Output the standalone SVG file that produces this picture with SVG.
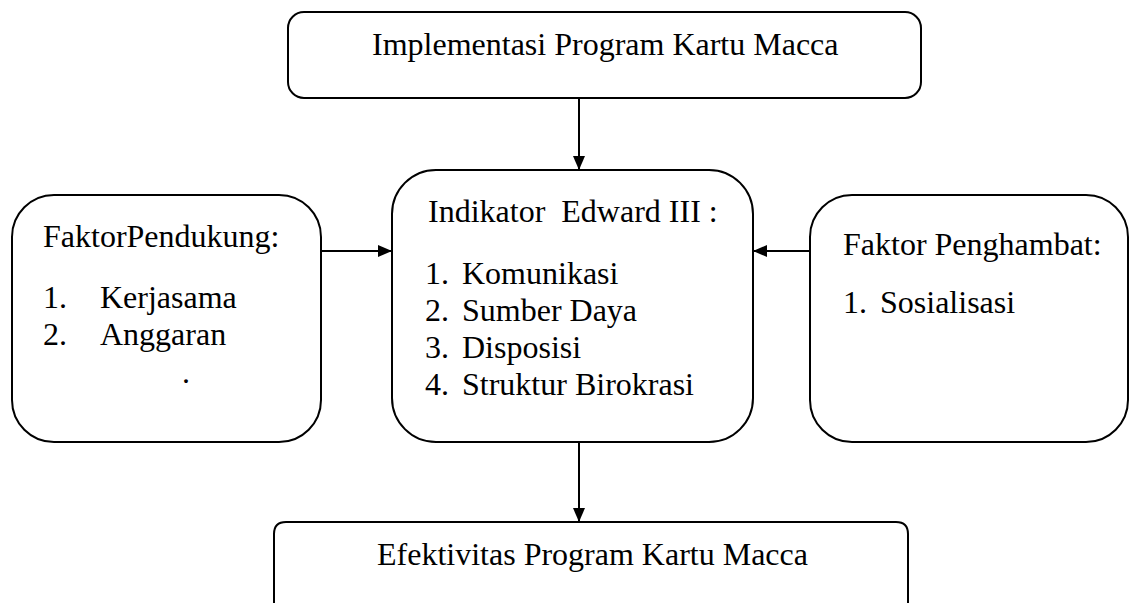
<svg xmlns="http://www.w3.org/2000/svg" width="1130" height="603" viewBox="0 0 1130 603">
<defs>
<style>
.box{fill:#fff;stroke:#000;stroke-width:2}
.t{font-family:"Liberation Serif","Times New Roman",serif;font-size:32px;fill:#000}
.c{stroke:#000;stroke-width:2;fill:none}
</style>
<marker id="ah" markerUnits="userSpaceOnUse" markerWidth="14" markerHeight="14" viewBox="0 0 14 12" refX="14" refY="6" orient="auto">
<path d="M0,0 L14,6 L0,12 Z" fill="#000"/>
</marker>
</defs>
<rect width="1130" height="603" fill="#fff"/>
<g id="implementasi">
<rect class="box" x="288" y="12" width="633" height="86" rx="16"/>
<text class="t" x="372" y="55">Implementasi Program Kartu Macca</text>
</g>
<g id="pendukung">
<rect class="box" x="12" y="195" width="309" height="247" rx="42"/>
<text class="t" x="43" y="247">FaktorPendukung:</text>
<text class="t" x="43" y="308">1.</text>
<text class="t" x="100" y="308">Kerjasama</text>
<text class="t" x="43" y="345">2.</text>
<text class="t" x="100" y="345">Anggaran</text>
<text class="t" x="182" y="383">.</text>
</g>
<g id="indikator">
<rect class="box" x="392" y="170" width="361" height="272" rx="44"/>
<text class="t" x="428" y="222" xml:space="preserve">Indikator  Edward III :</text>
<text class="t" x="425" y="284">1.</text><text class="t" x="462" y="284">Komunikasi</text>
<text class="t" x="425" y="321">2.</text><text class="t" x="462" y="321">Sumber Daya</text>
<text class="t" x="425" y="358">3.</text><text class="t" x="462" y="358">Disposisi</text>
<text class="t" x="425" y="395">4.</text><text class="t" x="462" y="395">Struktur Birokrasi</text>
</g>
<g id="penghambat">
<rect class="box" x="810" y="195" width="318" height="247" rx="42"/>
<text class="t" x="843" y="255">Faktor Penghambat:</text>
<text class="t" x="843" y="313">1.</text><text class="t" x="880" y="313">Sosialisasi</text>
</g>
<g id="efektivitas">
<path class="box" d="M274,604 V534 Q274,522 286,522 H896 Q908,522 908,534 V604"/>
<text class="t" x="377" y="565">Efektivitas Program Kartu Macca</text>
</g>
<g id="connectors">
<line class="c" x1="579" y1="98" x2="579" y2="170" marker-end="url(#ah)"/>
<line class="c" x1="321" y1="251" x2="392" y2="251" marker-end="url(#ah)"/>
<line class="c" x1="810" y1="251" x2="753" y2="251" marker-end="url(#ah)"/>
<line class="c" x1="579" y1="442" x2="579" y2="522" marker-end="url(#ah)"/>
</g>
</svg>
